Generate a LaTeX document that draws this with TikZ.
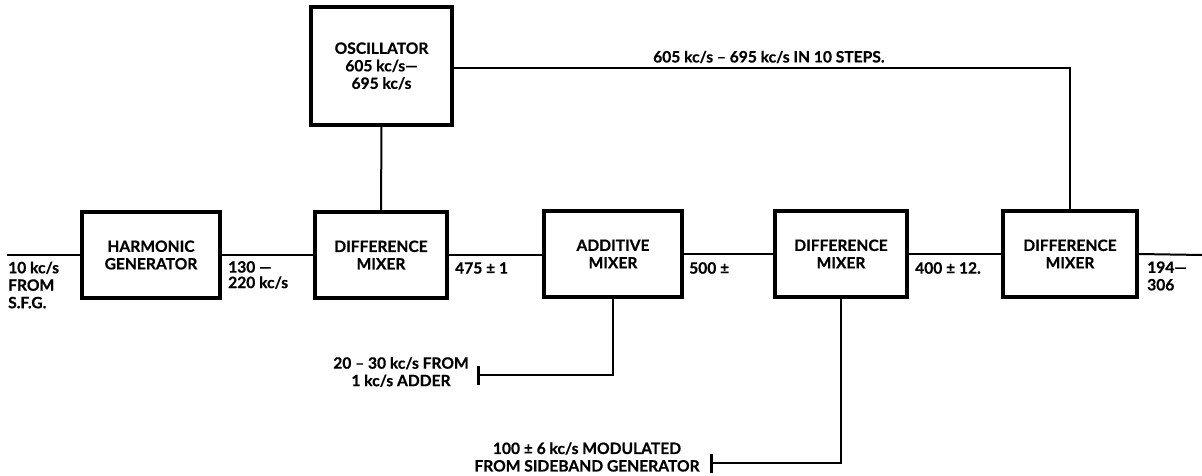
\documentclass[tikz,border=0pt]{standalone}
\usepackage{fontspec}
\setmainfont{Lato}[BoldFeatures={FakeBold=0.6}]
\usetikzlibrary{arrows.meta}
\begin{document}
\begin{tikzpicture}[x=1pt,y=-1pt,
  txt/.style={font=\fontsize{15.6}{17.5}\selectfont\bfseries,inner sep=0pt},
  box/.style={txt,draw,line width=3.2pt,align=center,minimum height=86pt},
  wire/.style={line width=2pt},
  barend/.style={wire,{Bar[width=19pt,line width=3.2pt]}-}]
\useasboundingbox (0,0) rectangle (1202,476);
% blocks
\node[box,minimum width=138pt] (hg)  at (151,255) {HARMONIC\\GENERATOR};
\node[box,minimum width=132pt] (dm1) at (381,255) {DIFFERENCE\\MIXER};
\node[box,minimum width=138pt] (am)  at (613,254) {ADDITIVE\\MIXER};
\node[box,minimum width=132pt] (dm2) at (841,254) {DIFFERENCE\\MIXER};
\node[box,minimum width=134pt] (dm3) at (1070,254) {DIFFERENCE\\MIXER};
\node[box,minimum width=141pt,minimum height=118pt] (osc) at (381.5,66) {OSCILLATOR\\605 kc/s—\\695 kc/s};
% free ends
\coordinate (in)  at (7,255);
\coordinate (out) at (1202,255);
\coordinate (b1)  at (477,375);
\coordinate (b2)  at (710,463);
% connectors
\draw[wire] (in) -- (hg.west);
\draw[wire] (hg.east) -- (dm1.west);
\draw[wire] (dm1.east) -- (am.west |- dm1.east);
\draw[wire] (am.east) -- (dm2.west);
\draw[wire] (dm2.east) -- (dm3.west);
\draw[wire] (dm3.east) -- (out);
\draw[wire] (osc.south) -- (dm1.north);
\draw[wire] (osc.east |- 0,68) -| (dm3.north);
\draw[barend] (b1) -| (am.south);
\draw[barend] (b2) -| (dm2.south);
% labels
\node[txt,anchor=west,align=left] (l10) at (8,285) {10 kc/s\\FROM\\S.F.G.};
\node[txt,anchor=west,align=left,font=\fontsize{15.6}{15.5}\selectfont\bfseries] (l130) at (228,275) {130 —\\220 kc/s};
\node[txt,anchor=west] (l475) at (455,268) {475 ± 1};
\node[txt,anchor=west] (l500) at (689,268) {500 ±};
\node[txt,anchor=west] (l400) at (915,268) {400 ± 12.};
\node[txt,anchor=west,align=left] (l194) at (1147,276) {194—\\306};
\node[txt,anchor=west] (ltop) at (653,57) {605 kc/s – 695 kc/s IN 10 STEPS.};
\node[txt,align=center] (ladd) at (401,372) {20 – 30 kc/s FROM\\1 kc/s ADDER};
\node[txt,align=center] (lsb) at (587,457) {100 ± 6 kc/s MODULATED\\FROM SIDEBAND GENERATOR};
\end{tikzpicture}
\end{document}
